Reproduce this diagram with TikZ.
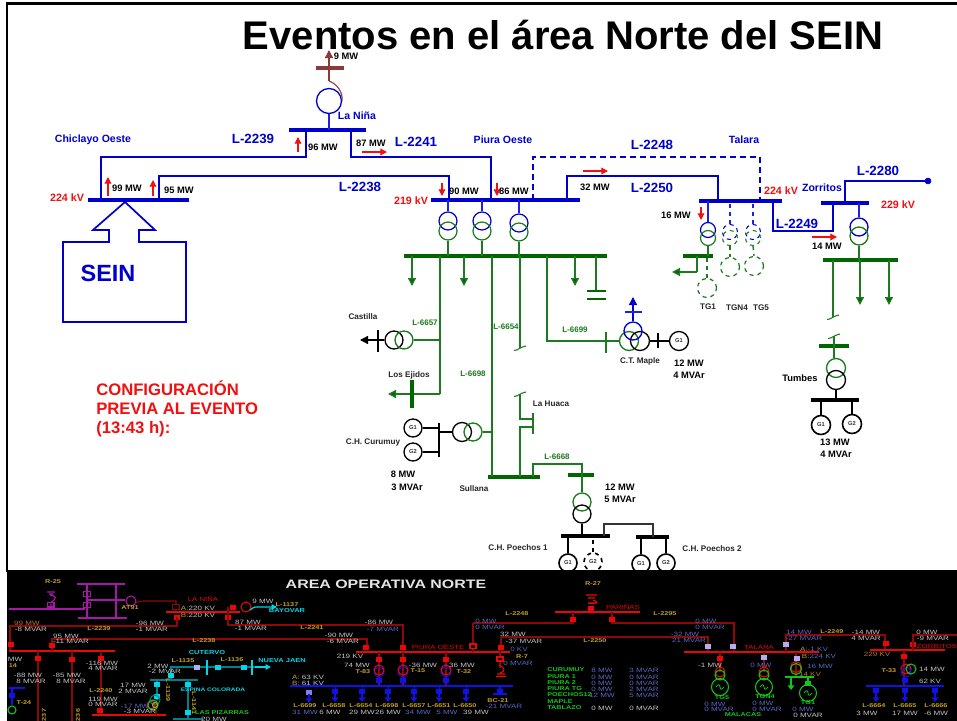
\documentclass[tikz,border=0pt]{standalone}
\usepackage{fontspec}
\setmainfont{Liberation Sans}
\newfontfamily\pf[FakeStretch=1.3]{Liberation Sans}
\usetikzlibrary{arrows.meta,calc}
\definecolor{mblue}{HTML}{0000CC}
\definecolor{lblue}{HTML}{1F1FE6}
\definecolor{mgreen}{HTML}{006600}
\definecolor{tgreen}{HTML}{1E7A1E}
\definecolor{mbrown}{HTML}{8B3A3A}
\definecolor{mred}{HTML}{F01010}
\definecolor{pgray}{HTML}{C4C4C4}
\definecolor{pyel}{HTML}{BFA020}
\definecolor{pred}{HTML}{E80808}
\definecolor{dred}{HTML}{8E0808}
\definecolor{pcy}{HTML}{00D8E8}
\definecolor{pteal}{HTML}{007F8C}
\definecolor{pblu}{HTML}{1010E8}
\definecolor{plav}{HTML}{5868C0}
\definecolor{pbox}{HTML}{B0B0F0}
\definecolor{pgrn}{HTML}{10C818}
\definecolor{pmag}{HTML}{A818A8}
\definecolor{pora}{HTML}{B07820}
\newcounter{lbc}
\newcommand\lab[4]{\stepcounter{lbc}\node[#1] (lb\arabic{lbc}) at (#2,#3) {#4};}
\newcommand\hbus[5][]{\node[#1,minimum width={(#4-#3)*0.75pt}] (#2) at ({(#3+#4)/2},#5) {};}
\newcommand\vbus[5][]{\node[#1,minimum height={(#5-#4)*0.75pt}] (#2) at (#3,{(#4+#5)/2}) {};}
\newcommand\cnode[6][]{\node[circle,draw,inner sep=0pt,minimum size={2*#5*0.75pt},#1] (#2) at (#3,#4) {#6};}
\newcommand\brk[3][tgreen]{\draw[#1,line width=.8pt] ($(#2)+(-6,#3)$) .. controls ($(#2)+(-2,#3)$) and ($(#2)+(0,-1)$) .. ($(#2)+(6,-2)$);}
\newcommand\pbx[3]{\fill[#1] (#2-3,#3-2.5) rectangle (#2+3,#3+2.5);}
\newcommand\pcc[4]{\draw[#1,line width=.8pt] (#2,#3) circle[radius=#4];}
\tikzset{
 blab/.style={font=\bfseries\fontsize{7}{8}\selectfont,text=black,inner sep=0pt},
 bsm/.style={font=\bfseries\fontsize{6.1}{7}\selectfont,text=black!85,inner sep=0pt},
 rkv/.style={font=\bfseries\fontsize{8}{9}\selectfont,text=mred,inner sep=0pt},
 lbl/.style={font=\bfseries\fontsize{10}{11}\selectfont,text=mblue,inner sep=0pt},
 stn/.style={font=\bfseries\fontsize{7.9}{9}\selectfont,text=mblue,inner sep=0pt},
 gl/.style={font=\bfseries\fontsize{6}{7}\selectfont,text=tgreen,inner sep=0pt},
 gtx/.style={font=\bfseries\fontsize{4.3}{5}\selectfont,text=black!80},
 bbus/.style={fill=mblue,inner sep=0pt,minimum height=3pt},
 gbus/.style={fill=mgreen,inner sep=0pt,minimum height=2.7pt},
 kbus/.style={fill=black,inner sep=0pt,minimum height=2.7pt},
 brbus/.style={fill=mbrown,inner sep=0pt,minimum height=2.6pt},
 gvbus/.style={fill=mgreen,inner sep=0pt,minimum width=2.6pt},
 gvthin/.style={fill=tgreen,inner sep=0pt,minimum width=1.6pt},
 kvbus/.style={fill=black,inner sep=0pt,minimum width=1.6pt},
 blw/.style={draw=mblue,line width=1.6pt},
 blt/.style={draw=lblue,line width=1pt},
 blsq/.style={draw=mblue,line width=1.3pt,dash pattern=on 4.5pt off 3pt},
 gw/.style={draw=tgreen,line width=1pt},
 kw/.style={draw=black,line width=1pt},
 rarr/.style={draw=mred,line width=.9pt,-{Triangle[length=5pt,width=5pt]}},
 garr/.style={draw=tgreen,line width=1pt,-{Triangle[length=6pt,width=6pt,fill=mgreen]}},
 ptx/.style={font=\pf\fontsize{4.65}{5.5}\selectfont,text=pgray,inner sep=0pt},
 plv/.style={font=\pf\fontsize{4.65}{5.5}\selectfont,text=plav,inner sep=0pt},
 pye/.style={font=\pf\bfseries\fontsize{4.2}{5}\selectfont,text=pyel,inner sep=0pt},
 prd/.style={font=\pf\fontsize{4.5}{5.5}\selectfont,text=pred,inner sep=0pt},
 pcn/.style={font=\pf\bfseries\fontsize{4.3}{5}\selectfont,text=pcy,inner sep=0pt},
 pcs/.style={font=\pf\bfseries\fontsize{3.8}{5}\selectfont,text=pcy,inner sep=0pt},
 pgn/.style={font=\pf\bfseries\fontsize{4.2}{5}\selectfont,text=pgrn,inner sep=0pt},
 por/.style={font=\pf\fontsize{4.65}{5.5}\selectfont,text=pora,inner sep=0pt},
 pw/.style={draw=dred,line width=.8pt},
 pb/.style={draw=pred,line width=1pt},
 pbl/.style={draw=pblu,line width=1pt},
 ptl/.style={draw=pteal,line width=.9pt},
 pmg/.style={draw=pmag,line width=.9pt},
 pgw/.style={draw=pgrn,line width=.9pt},
 pda/.style={draw=pblu,line width=1.3pt,-{Triangle[length=3.5pt,width=5pt]}},
}
\begin{document}
\begin{tikzpicture}[x=0.75pt,y=-0.75pt]
\useasboundingbox (0,0) rectangle (957,721);
\fill[white] (0,0) rectangle (957,721);
% frame
\coordinate (frTL) at (7,3.5); \coordinate (frTR) at (957,3.5); \coordinate (frBL) at (7,572);
\draw[black,line width=2pt] (frTR) -- (frTL) -- (frBL);
\node[font=\bfseries\fontsize{30}{32}\selectfont,inner sep=0pt] (title) at (563,35) {Eventos en el área Norte del SEIN};
% La Nina
\hbus[bbus]{bNina}{289}{366}{129.5}
\hbus[brbus]{bNinaT}{316}{344}{68}
\cnode[draw=mblue,line width=1pt]{cNina}{329}{101}{12.5}{}
\coordinate (nkT) at (329,50); \coordinate (nkB) at (329,81);
\draw[blt] (cNina.south) -- (cNina.south |- bNina.center);
\draw[draw=mbrown,line width=1pt,-{Triangle[length=6pt,width=6pt]}] (nkB) -- (nkT);
\draw[draw=mbrown,line width=.8pt] (nkB) .. controls (337,84) and (343,92) .. (cNina.east);
% 220 kV buses
\hbus[bbus]{bChi}{88}{189}{200}
\hbus[bbus]{bPiu}{431}{580}{200}
\hbus[bbus]{bTal}{699}{782}{200.7}
\hbus[bbus]{bZor}{821}{869}{203}
\coordinate (l39a) at (306,129.5); \coordinate (l39m) at (200,157); \coordinate (l39b) at (101,200);
\draw[blw] (l39a) |- (l39m) -| (l39b);
\coordinate (l41a) at (351,129.5); \coordinate (l41m) at (420,157); \coordinate (l41b) at (491,200);
\draw[blw] (l41a) |- (l41m) -| (l41b);
\coordinate (l38a) at (159,200); \coordinate (l38m) at (300,176); \coordinate (l38b) at (449,200);
\draw[blw] (l38a) |- (l38m) -| (l38b);
\coordinate (l48a) at (533,200); \coordinate (l48m) at (650,157); \coordinate (l48b) at (760,200);
\draw[blsq] (l48a) |- (l48m) -| (l48b);
\coordinate (l50a) at (567,200); \coordinate (l50m) at (650,176); \coordinate (l50b) at (718,200);
\draw[blw] (l50a) |- (l50m) -| (l50b);
\coordinate (l49a) at (773,200); \coordinate (l49m) at (800,231); \coordinate (l49b) at (833,203);
\draw[blw] (l49a) |- (l49m) -| (l49b);
\coordinate (l80a) at (845,203);
\cnode[fill=mblue,draw=mblue]{dot80}{928}{181}{3}{}
\draw[blw] (l80a) |- (dot80.center);
% SEIN box
\draw[draw=mblue,line width=1.3pt,line join=miter] (125,202) -- (155,230) -- (139,230) -- (139,242) -- (186,242) -- (186,322) -- (63,322) -- (63,242) -- (109,242) -- (109,230) -- (93,230) -- cycle;
\node[font=\bfseries\fontsize{17.6}{19}\selectfont,text=mblue,inner sep=0pt] (sein) at (108,273) {SEIN};
% Piura transformers
\hbus[gbus]{bPiuG}{404}{607}{256}
\foreach \n/\x/\ya/\yb in {a/448/221/231,b/482/221/231,c/519/223/232}{
 \cnode[draw=mblue,line width=.9pt]{tb\n}{\x}{\ya}{9}{}
 \cnode[draw=tgreen,line width=.9pt]{tg\n}{\x}{\yb}{9}{}
 \draw[blt] (tb\n.north) -- (tb\n.north |- bPiu.center);
 \draw[gw] (tg\n.south) -- (tg\n.south |- bPiuG.center);
}
% Piura MT feeders
\foreach \n/\x in {a/412,b/464,c/575}{
 \coordinate (fa\n) at (\x,256); \coordinate (fb\n) at (\x,286);
 \draw[garr] (fa\n) -- (fb\n);
}
% capacitor
\coordinate (capT) at (596,256); \coordinate (capB) at (596,291);
\coordinate (capL1) at (587,291); \coordinate (capR1) at (606,291);
\coordinate (capL2) at (587,299); \coordinate (capR2) at (606,299);
\draw[gw] (capT) -- (capB);
\draw[draw=mgreen,line width=1.3pt] (capL1) -- (capR1) (capL2) -- (capR2);
% Castilla / Los Ejidos
\cnode[draw=black,line width=1pt]{cCasK}{394}{340}{9}{}
\cnode[draw=tgreen,line width=1pt]{cCasG}{404}{340}{9}{}
\vbus[kvbus]{vCas}{378}{330}{352}
\coordinate (casA) at (360,340);
\draw[kw,-{Triangle[length=6pt,width=6pt]}] (cCasK.west) -- (casA);
\coordinate (f57T) at (440,256); \coordinate (f57J) at (440,340); \coordinate (f57B) at (440,394); \coordinate (ejA) at (388,394);
\draw[gw] (f57T) -- (f57B);
\draw[garr] (f57B) -- (ejA);
\draw[gw] (cCasG.east) -- (f57J);
\vbus[gvbus]{vEji}{412}{380}{408}
% Sullana
\hbus[gbus]{bSul}{488}{540}{477}
\coordinate (f98T) at (492,256); \coordinate (f98B) at (492,477);
\draw[gw] (f98T) -- (f98B);
\coordinate (f54T) at (520,256); \coordinate (f54B) at (520,348);
\draw[gw] (f54T) -- (f54B);
\brk{f54B}{2.5}
% La Huaca
\coordinate (huT) at (520,394); \coordinate (huU) at (533,419); \coordinate (huL) at (533,427); \coordinate (huB) at (520,477);
\vbus[gvthin]{vHua}{533}{413}{434}
\draw[gw] (huT) |- (huU);
\draw[gw] (huL) -| (huB);
\brk{huT}{2.5}
% Maple
\coordinate (f99T) at (547,256);
\vbus[gvthin]{vMap}{606}{332}{353}
\cnode[draw=tgreen,line width=1pt]{cMapG}{629}{341}{9.5}{}
\cnode[draw=black,line width=1pt]{cMapK}{640}{341}{9.5}{}
\cnode[draw=mblue,line width=1pt]{cMapB}{633}{331}{9}{}
\cnode[draw=black,line width=1pt,gtx]{gMap}{679}{341}{9.5}{G1}
\vbus[kvbus]{vMapK}{658}{333}{348}
\draw[gw] (f99T) |- (cMapG.west);
\draw[kw] (cMapK.east) -- (gMap.west);
\coordinate (mapA) at (633,297); \coordinate (mapL) at (625,312); \coordinate (mapR) at (642,312);
\draw[draw=mblue,line width=1pt,-{Triangle[length=6pt,width=6pt]}] (cMapB.north) -- (mapA);
\draw[blt] (mapL) -- (mapR);
% Curumuy
\cnode[draw=black,line width=1pt,gtx]{gCu1}{413}{428}{9}{G1}
\cnode[draw=black,line width=1pt,gtx]{gCu2}{413}{452}{9}{G2}
\vbus[kvbus]{vCur}{439}{423}{457}
\cnode[draw=black,line width=1pt]{cCurK}{462}{432}{9.5}{}
\cnode[draw=tgreen,line width=1pt]{cCurG}{473}{432}{9}{}
\coordinate (f98C) at (492,432);
\draw[kw] (gCu1.east) -- (gCu1.east -| vCur.center);
\draw[kw] (gCu2.east) -- (gCu2.east -| vCur.center);
\draw[kw] (cCurK.west) -- (cCurK.west -| vCur.center);
\draw[gw] (cCurG.east) -- (f98C);
% L-6668 / Poechos
\hbus[gbus]{bL68}{568}{594}{475}
\coordinate (l68a) at (533,477); \coordinate (l68m) at (560,464); \coordinate (l68b) at (582,475);
\draw[gw] (l68a) |- (l68m) -| (l68b);
\cnode[draw=tgreen,line width=1pt]{cPoG}{582}{502}{9}{}
\cnode[draw=black,line width=1pt]{cPoK}{582}{514}{9}{}
\draw[gw] (l68b) -- (cPoG.north);
\hbus[kbus]{bPo1}{561}{610}{536}
\hbus[kbus]{bPo2}{636}{669}{537}
\draw[kw] (cPoK.south) -- (cPoK.south |- bPo1.center);
\coordinate (pl1) at (604,536); \coordinate (plm) at (630,524); \coordinate (pl2) at (653,537);
\draw[draw=black!80,line width=1pt] (pl1) |- (plm) -| (pl2);
\cnode[draw=black,line width=1.2pt,gtx]{gP1}{568}{563}{9}{G1}
\cnode[draw=black,dashed,line width=1.2pt,gtx]{gP2}{593}{562}{9}{G2}
\cnode[draw=black,line width=1.2pt,gtx]{gP3}{641}{564}{9}{G1}
\cnode[draw=black,line width=1.2pt,gtx]{gP4}{666}{563}{9}{G2}
\draw[kw] (gP1.north) -- (gP1.north |- bPo1.center);
\draw[kw,dashed] (gP2.north) -- (gP2.north |- bPo1.center);
\draw[kw] (gP3.north) -- (gP3.north |- bPo2.center);
\draw[kw] (gP4.north) -- (gP4.north |- bPo2.center);
% Talara
\cnode[draw=mblue,line width=.9pt]{tT1b}{708}{230}{7.5}{}
\cnode[draw=tgreen,line width=.9pt]{tT1g}{708}{238}{7.5}{}
\draw[blt] (tT1b.north) -- (tT1b.north |- bTal.center);
\hbus[gbus]{bT1}{683}{713}{256}
\draw[gw] (tT1g.south) -- (tT1g.south |- bT1.center);
\coordinate (t1a) at (697,256); \coordinate (t1m) at (697,272); \coordinate (t1e) at (672,272);
\draw[gw] (t1a) -- (t1m);
\draw[garr] (t1m) -- (t1e);
\cnode[draw=tgreen,dashed,line width=.9pt]{gT1}{707}{288}{9.5}{}
\draw[gw,dashed] (gT1.north) -- (gT1.north |- bT1.center);
\foreach \n/\x/\gx/\gy in {a/730/730/267,b/753/754/266}{
 \cnode[draw=mblue,dashed,line width=.8pt]{tD\n b}{\x}{232}{7.5}{}
 \cnode[draw=tgreen,dashed,line width=.8pt]{tD\n g}{\x}{238}{7.5}{}
 \cnode[draw=tgreen,dashed,line width=.9pt]{gD\n}{\gx}{\gy}{9.5}{}
 \draw[blt,dashed] (tD\n b.north) -- (tD\n b.north |- bTal.center);
 \draw[gw,dashed] (tD\n g.south) -- (gD\n.north);
}
% Zorritos
\cnode[draw=mblue,line width=1pt]{tZb}{859}{227}{9}{}
\cnode[draw=tgreen,line width=1pt]{tZg}{859}{236}{9}{}
\draw[blt] (tZb.north) -- (tZb.north |- bZor.center);
\hbus[gbus]{bZG}{823}{898}{260}
\draw[gw] (tZg.south) -- (tZg.south |- bZG.center);
\coordinate (z1a) at (833,260); \coordinate (z1b) at (833,317);
\draw[gw] (z1a) -- (z1b); \brk{z1b}{2.5}
\coordinate (z2a) at (860,260); \coordinate (z2b) at (860,305);
\coordinate (z3a) at (889,260); \coordinate (z3b) at (889,305);
\draw[garr] (z2a) -- (z2b); \draw[garr] (z3a) -- (z3b);
% Tumbes
\coordinate (tuT) at (834,336);
\hbus[gbus]{bTuG}{819}{849}{346}
\cnode[draw=tgreen,line width=1pt]{cTuG}{836}{368}{9.5}{}
\cnode[draw=black,line width=1pt]{cTuK}{836}{380}{9.5}{}
\draw[gw] (tuT) -- (tuT |- cTuG.north);
\brk{tuT}{2.5}
\hbus[kbus]{bTuK}{811}{859}{400}
\draw[kw] (cTuK.south) -- (cTuK.south |- bTuK.center);
\cnode[draw=black,line width=1.2pt,gtx]{gTu1}{821}{425}{9.5}{G1}
\cnode[draw=black,line width=1.2pt,gtx]{gTu2}{852}{424}{9.5}{G2}
\draw[draw=black,line width=1.2pt] (gTu1.north) -- (gTu1.north |- bTuK.center);
\draw[draw=black,line width=1.2pt] (gTu2.north) -- (gTu2.north |- bTuK.center);
% red arrows
\foreach \n/\xa/\ya/\xb/\yb in {a/108/196/108/177,b/153/196/153/180,c/298/152/298/137,d/362/152/387/152,e/442/183/442/196,f/497/183/497/196,g/583/171/608/171,h/701/207/701/220,i/812/237/837/237}{
 \coordinate (ra\n) at (\xa,\ya); \coordinate (rb\n) at (\xb,\yb);
 \draw[rarr] (ra\n) -- (rb\n);
}
% labels main
\lab{blab}{346}{56}{9 MW}
\lab{stn}{357}{116}{La Niña}
\lab{stn}{93}{140}{Chiclayo Oeste}
\lab{stn}{503}{140}{Piura Oeste}
\lab{stn}{744}{140}{Talara}
\lab{stn}{822}{188}{Zorritos}
\lab{lbl}{253}{139}{L-2239}
\lab{lbl}{416}{142}{L-2241}
\lab{lbl}{360}{187}{L-2238}
\lab{lbl}{652}{145}{L-2248}
\lab{lbl}{652}{188}{L-2250}
\lab{lbl}{878}{171}{L-2280}
\lab{lbl}{797}{224}{L-2249}
\lab{blab}{127}{188}{99 MW}
\lab{blab}{179}{190}{95 MW}
\lab{blab}{323}{147}{96 MW}
\lab{blab}{371}{143}{87 MW}
\lab{blab}{464}{191}{90 MW}
\lab{blab}{514}{191}{86 MW}
\lab{blab}{595}{187}{32 MW}
\lab{blab}{676}{215}{16 MW}
\lab{blab}{827}{246}{14 MW}
\lab{rkv}{67}{198}{224 kV}
\lab{rkv}{411}{201}{219 kV}
\lab{rkv}{781}{191}{224 kV}
\lab{rkv}{898}{205}{229 kV}
\lab{gl}{425}{323}{L-6657}
\lab{gl}{506}{327}{L-6654}
\lab{gl}{575}{330}{L-6699}
\lab{gl}{473}{374}{L-6698}
\lab{gl}{557}{457}{L-6668}
\lab{bsm}{363}{317}{Castilla}
\lab{bsm}{409}{375}{Los Ejidos}
\lab{bsm}{551}{404}{La Huaca}
\lab{bsm}{373}{442}{C.H. Curumuy}
\lab{bsm}{474}{489}{Sullana}
\lab{bsm}{518}{548}{C.H. Poechos 1}
\lab{bsm}{712}{549}{C.H. Poechos 2}
\lab{bsm}{640}{361}{C.T. Maple}
\lab{bsm}{708}{307}{TG1}
\lab{bsm}{737}{308}{TGN4}
\lab{bsm}{761}{308}{TG5}
\lab{blab}{800}{378}{Tumbes}
\lab{blab}{689}{363}{12 MW}
\lab{blab}{689}{375}{4 MVAr}
\lab{blab}{835}{442}{13 MW}
\lab{blab}{836}{454}{4 MVAr}
\lab{blab}{403}{474}{8 MW}
\lab{blab}{407}{487}{3 MVAr}
\lab{blab}{620}{487}{12 MW}
\lab{blab}{620}{499}{5 MVAr}
\node[font=\bfseries\fontsize{12.5}{14.3}\selectfont,text=mred,inner sep=0pt,anchor=north west,align=left] (cfg) at (96,380.5) {CONFIGURACIÓN\\PREVIA AL EVENTO\\(13:43 h):};
% ---- black panel ----
\begin{scope}
\clip (7,570) rectangle (957,721);
\fill[black] (7,570) rectangle (957,721);
\lab{font=\pf\bfseries\fontsize{9.2}{11}\selectfont,text=white!90!black,inner sep=0pt}{386}{584}{AREA OPERATIVA NORTE}
% magenta
\draw[pmg] (9,609) -- (85,609) (77,584) -- (125,584) (78,618) -- (127,618) (87,584) -- (87,618) (116,584) -- (116,618) (87,600) -- (125,600);
\draw[pmg] (47,592) -- (55,592) (49,594) -- (53,594) (50,603) .. controls (58,598) and (56,596) .. (50,595) (51,604) -- (51,609);
\draw[pmg] (47.5,602.5) rectangle (54,607);
\draw[pmg] (83.5,591.5) rectangle (90.5,596.5) (83.5,602.5) rectangle (90.5,607.5);
\pcc{pmag}{131}{601}{5}
\draw[pw] (136,603) .. controls (140,601) .. (143,601) -- (176,601) -- (176,605);
\draw[pw] (172.5,604.5) rectangle (179.5,609.5);
\draw[pb] (166,612) -- (240,612);
\pbx{pred}{177}{617}
\draw[pw] (177,617) -- (177,626) -- (10,626) -- (10,651);
\pbx{pred}{11}{644}
\pbx{pred}{233}{607} \pbx{pred}{228}{617}
\draw[pw] (228,607) -- (228,625) -- (403,625) -- (403,647);
\pcc{pred}{246}{607}{5}
\draw[pcy,line width=.9pt,-{Triangle[length=4pt,width=4pt]}] (250,610) .. controls (254,607) .. (258,607) -- (277,607);
% left bus
\draw[pb] (9,651) -- (115,651);
\draw[pw] (52,651) -- (52,639) -- (367,639) -- (367,647);
\pbx{pred}{52}{645}
\pbx{pred}{366}{647}
\foreach \x/\yb in {38/721,72/721,101/715}{\draw[pw] (\x,651) -- (\x,\yb);}
\pbx{pred}{38}{658}\pbx{pred}{72}{659}\pbx{pred}{101}{658}\pbx{pred}{100}{710}
\draw[pb] (92,715) -- (166,715);
% T-24
\draw[pbl] (9,688) -- (25,688);
\pbx{pblu}{12}{695}
\draw[pbl] (12,688) -- (12,705);
\pcc{pgrn}{12}{710}{4}
% cyan
\draw[ptl] (170,667) -- (267,667);
\draw[draw=pcy,line width=.9pt,-{Triangle[length=4pt,width=4pt]}] (255,667) -- (271,667);
\draw[draw=pcy,line width=1pt] (207,660) -- (207,675) (252,660) -- (252,675);
\pbx{pbox}{197}{667} \pbx{pcy}{218}{667} \pbx{pcy}{244}{667}
\draw[ptl] (171,667) -- (171,680) (150,680) -- (198,680) (157,680) -- (157,700) (188,680) -- (188,718) (173,719) -- (203,719);
\pbx{pcy}{171}{675}\pbx{pcy}{157}{684}\pbx{pcy}{157}{696}\pbx{pcy}{188}{684}\pbx{pcy}{188}{712}
\pcc{pteal}{155}{700}{5}\pcc{pred}{151}{705}{4}\pcc{pgrn}{153}{705}{5}\pcc{pyel}{155}{705}{2.5}
\draw[pw] (156,710) -- (156,715);
% 220 PIURA
\draw[pb] (356,652) -- (510,652);
\draw[pw] (473,623) -- (473,652) (501,637) -- (501,652);
\draw[pw] (573,619) -- (573,623) -- (473,623);
\draw[pw] (501,637) -- (708,637) -- (708,652);
\draw[pw] (612,619) -- (612,623) -- (734,623) -- (734,652);
\pbx{pred}{366}{647}\pbx{pred}{403}{647}\pbx{pred}{501}{647}
\fill[black] (470,644) rectangle (476,648.5);
\draw[pred,line width=.8pt] (470,644) rectangle (476,648.5);
\foreach \x in {379,403,446}{
 \draw[pw] (\x,652) -- (\x,686);
 \pbx{pred}{\x}{659}
 \pcc{pblu}{\x}{672}{5}
 \pcc{pred}{\x}{670}{5}
 \pbx{pblu}{\x}{680}
}
\draw[pw] (500,652) -- (500,668);
\fill[black] (497,657) rectangle (503,661);
\draw[pred,line width=.8pt] (497,657) rectangle (503,661);
\draw[pred,line width=.8pt] (497,674) -- (505,674) (496,676.5) -- (506,676.5) (499,665) .. controls (506,668) and (505,672) .. (500,673);
\draw[pbl] (290,686) -- (513,686);
\pbx{pbox!70!pblu}{309}{692}
\draw[pda] (309,694) -- (309,703);
\foreach \x in {335,362,388,414,439,466}{\draw[pblu,line width=.7pt] (\x,686) -- (\x,692); \pbx{pblu}{\x}{691}\draw[pda] (\x,693) -- (\x,702);}
\pbx{pblu}{500}{691}\draw[pbl] (493,694) -- (507,694) (500,686) -- (500,694);
% R-27 Parinas
\draw[pb] (555,612) -- (640,612);
\pbx{pred}{591}{608}
\draw[pred,line width=.8pt] (586,595) -- (597,595) (588,598) -- (595,598) (593,600) .. controls (600,602) and (596,605) .. (588,603) -- (597,603);
\draw[pw] (573,612) -- (573,619) (612,612) -- (612,619);
\pbx{pred}{573}{619}\pbx{pred}{612}{619}
% Talara panel
\draw[pb] (684,652) -- (819,652);
\draw[pw] (786,652) -- (786,635) -- (885,635) -- (885,650);
\pbx{pred}{886}{643}
\pbx{pbox}{708}{646}\pbx{pbox}{733}{646}\pbx{pbox}{786}{644}
\draw[pw] (720,652) -- (720,672) (764,652) -- (764,672) (796,652) -- (796,677);
\pbx{pred}{720}{658}\pbx{pbox}{764}{657}\pbx{pbox}{797}{658}
\foreach \x in {720,764}{
 \pcc{pred}{\x}{672}{5}
 \pcc{pgrn}{\x}{675}{5}
 \draw[pgw] (\x,680) -- (\x,678);
 \pcc{pgrn}{\x}{687}{8.5}
 \draw[pgrn,line width=.6pt] (\x-4,687) .. controls (\x-2,684) and (\x,684) .. (\x,687) .. controls (\x,690) and (\x+2,690) .. (\x+4,687);
}
\pcc{pred}{796}{667}{5.5}\pcc{pgrn}{796}{669}{5.5}
\draw[pgw] (785,677) -- (814,677) (791,677) -- (791,683) (808,677) -- (808,685);
\draw[draw=pgrn,line width=1.2pt,-{Triangle[length=3.5pt,width=5pt]}] (791,683) -- (791,690);
\pbx{pgrn}{808}{683}
\pcc{pgrn}{808}{693}{8.5}
\draw[pgrn,line width=.6pt] (804,693) .. controls (806,690) and (808,690) .. (808,693) .. controls (808,696) and (810,696) .. (812,693);
% Zorritos panel
\draw[pb] (870,650) -- (945,650);
\pbx{pred}{913}{644}
\draw[pw] (913,650) -- (913,635) -- (957,635);
\draw[pw] (904,650) -- (904,686);
\pbx{pred}{904}{656}
\pcc{pred}{906}{669}{5}\pcc{pblu}{906}{672}{5}\pcc{pgrn}{911}{669}{5}
\pbx{pblu}{905}{680}
\draw[pbl] (866,686) -- (944,686);
\foreach \x in {876,905,935}{\pbx{pblu}{\x}{690}\draw[pda] (\x,692) -- (\x,702);}
% panel texts
\lab{pye}{53}{582}{R-25}
\lab{pye}{130}{608}{AT91}
\lab{prd}{203}{599}{LA NIÑA}
\lab{ptx}{198}{608}{\textcolor{pyel}{A:}220 KV}
\lab{ptx}{198}{615}{\textcolor{pyel}{B:}220 KV}
\lab{ptx}{263}{601}{9 MW}
\lab{pye}{287}{605}{L-1137}
\lab{pcn}{287}{611}{BAYOVAR}
\lab{por}{27}{623}{99 MW}
\lab{ptx}{31}{629}{-8 MVAR}
\lab{pye}{99}{629}{L-2239}
\lab{ptx}{150}{623}{-96 MW}
\lab{ptx}{152}{629}{-1 MVAR}
\lab{ptx}{248}{622}{87 MW}
\lab{ptx}{251}{628}{-1 MVAR}
\lab{pye}{312}{628}{L-2241}
\lab{ptx}{66}{636}{95 MW}
\lab{ptx}{71}{641}{-11 MVAR}
\lab{pye}{204}{641}{L-2238}
\lab{ptx}{15}{659}{MW}
\lab{pye}{13}{666}{14}
\lab{ptx}{28}{675}{-88 MW}
\lab{ptx}{31}{681}{8 MVAR}
\lab{ptx}{67}{675}{-85 MW}
\lab{ptx}{71}{681}{8 MVAR}
\lab{ptx}{102}{663}{-116 MW}
\lab{ptx}{103}{668}{4 MVAR}
\lab{pye}{101}{691}{L-2240}
\lab{ptx}{103}{699}{119 MW}
\lab{ptx}{103}{704}{0 MVAR}
\lab{pye}{24}{703}{T-24}
\lab{pye,rotate=90}{44}{715}{237}
\lab{pye,rotate=90}{78}{715}{236}
\lab{pcn}{207}{653}{CUTERVO}
\lab{pye}{183}{661}{L-1135}
\lab{pye}{232}{660}{L-1136}
\lab{pcn}{282}{661}{NUEVA JAEN}
\lab{ptx}{158}{666}{2 MW}
\lab{ptx}{165}{671}{-2 MVAR}
\lab{ptx}{133}{685}{17 MW}
\lab{ptx}{133}{691}{2 MVAR}
\lab{plv}{135}{706}{-17 MW}
\lab{ptx}{140}{711}{-3 MVAR}
\lab{pye,rotate=-90}{168}{690}{L-1139}
\lab{pye,rotate=-90}{194}{703}{L-1141}
\lab{pcs}{213}{690}{ESPINA COLORADA}
\lab{pgn}{222}{713}{LAS PIZARRAS}
\lab{ptx}{214}{719}{20 MW}
\lab{ptx}{308}{677}{\textcolor{pyel}{A:} 63 KV}
\lab{ptx}{308}{683}{\textcolor{pyel}{B:} 61 KV}
\lab{pye}{305}{706}{L-6699}
\lab{plv}{305}{712}{31 MW}
\lab{pye}{593}{584}{R-27}
\lab{prd}{623}{607}{PARIÑAS}
\lab{pye}{517}{614}{L-2248}
\lab{pye}{665}{614}{L-2295}
\lab{ptx}{379}{622}{-86 MW}
\lab{plv}{383}{629}{-7 MVAR}
\lab{plv}{486}{621}{0 MW}
\lab{plv}{490}{627}{0 MVAR}
\lab{ptx}{513}{634}{32 MW}
\lab{ptx}{524}{641}{-37 MVAR}
\lab{pye}{595}{641}{L-2250}
\lab{ptx}{339}{635}{-90 MW}
\lab{ptx}{343}{641}{-6 MVAR}
\lab{prd}{438}{647}{PIURA OESTE}
\lab{plv}{519}{649}{0 KV}
\lab{pye}{522}{657}{R-7}
\lab{plv}{518}{663}{0 MVAR}
\lab{ptx}{350}{656}{219 KV}
\lab{ptx}{357}{665}{74 MW}
\lab{pye}{363}{672}{T-83}
\lab{ptx}{423}{665}{-36 MW}
\lab{pye}{418}{671}{T-15}
\lab{ptx}{462}{665}{36 MW}
\lab{pye}{464}{672}{T-32}
\lab{pye}{334}{706}{L-6658}
\lab{pye}{361}{706}{L-6654}
\lab{pye}{387}{706}{L-6698}
\lab{pye}{414}{706}{L-6657}
\lab{pye}{439}{706}{L-6651}
\lab{pye}{465}{706}{L-6650}
\lab{ptx}{330}{712}{6 MW}
\lab{ptx}{362}{712}{29 MW}
\lab{ptx}{388}{712}{26 MW}
\lab{plv}{418}{712}{34 MW}
\lab{plv}{447}{712}{5 MW}
\lab{ptx}{476}{712}{39 MW}
\lab{pye}{498}{701}{BC-21}
\lab{plv}{504}{706}{-21 MVAR}
\foreach \nm/\yy/\mw/\mv/\sty in {CURUMUY/670/8 MW/3 MVAR/plv,PIURA 1/677/0 MW/0 MVAR/plv,PIURA 2/683/0 MW/0 MVAR/plv,PIURA TG/689/0 MW/2 MVAR/plv,POECHOS12/695/12 MW/5 MVAR/plv,TABLAZO/708/0 MW/0 MVAR/ptx}{
 \lab{pgn,anchor=west}{547}{\yy}{\nm}
 \lab{\sty}{602}{\yy}{\mw}
 \lab{\sty}{644}{\yy}{\mv}
}
\lab{pgn,anchor=west}{547}{702}{MAPLE}
\lab{plv}{706}{621}{0 MW}
\lab{plv}{710}{627}{0 MVAR}
\lab{plv}{685}{634}{-32 MW}
\lab{plv}{689}{640}{21 MVAR}
\lab{prd}{759}{647}{TALARA}
\lab{plv}{799}{632}{14 MW}
\lab{plv}{804}{638}{-27 MVAR}
\lab{pye}{832}{632}{L-2249}
\lab{ptx}{866}{632}{-14 MW}
\lab{ptx}{866}{638}{4 MVAR}
\lab{ptx}{927}{632}{0 MW}
\lab{ptx}{933}{638}{-9 MVAR}
\lab{prd}{937}{646}{ZORRITOS}
\lab{por}{877}{654}{229 KV}
\lab{pye}{889}{671}{T-33}
\lab{ptx}{932}{669}{14 MW}
\lab{ptx}{930}{681}{62 KV}
\lab{ptx}{710}{665}{-1 MW}
\lab{pgn}{722}{698}{TG5}
\lab{plv}{715}{704}{0 MW}
\lab{plv}{719}{709}{0 MVAR}
\lab{plv}{761}{665}{0 MW}
\lab{pgn}{765}{697}{TGN4}
\lab{plv}{763}{703}{0 MW}
\lab{plv}{767}{709}{0 MVAR}
\lab{pgn}{808}{703}{TG1}
\lab{plv}{803}{709}{0 MW}
\lab{ptx}{808}{715}{0 MVAR}
\lab{plv}{820}{666}{16 MW}
\lab{por}{810}{674}{14 KV}
\lab{plv}{814}{649}{\textcolor{pyel}{A:}-1 KV}
\lab{plv}{819}{656}{\textcolor{pyel}{B:}224 KV}
\lab{pgn}{743}{715}{MALACAS}
\lab{pye}{874}{706}{L-6664}
\lab{pye}{905}{706}{L-6665}
\lab{pye}{936}{706}{L-6666}
\lab{ptx}{867}{713}{3 MW}
\lab{ptx}{905}{713}{17 MW}
\lab{ptx}{936}{713}{-6 MW}
\end{scope}
\end{tikzpicture}
\end{document}
